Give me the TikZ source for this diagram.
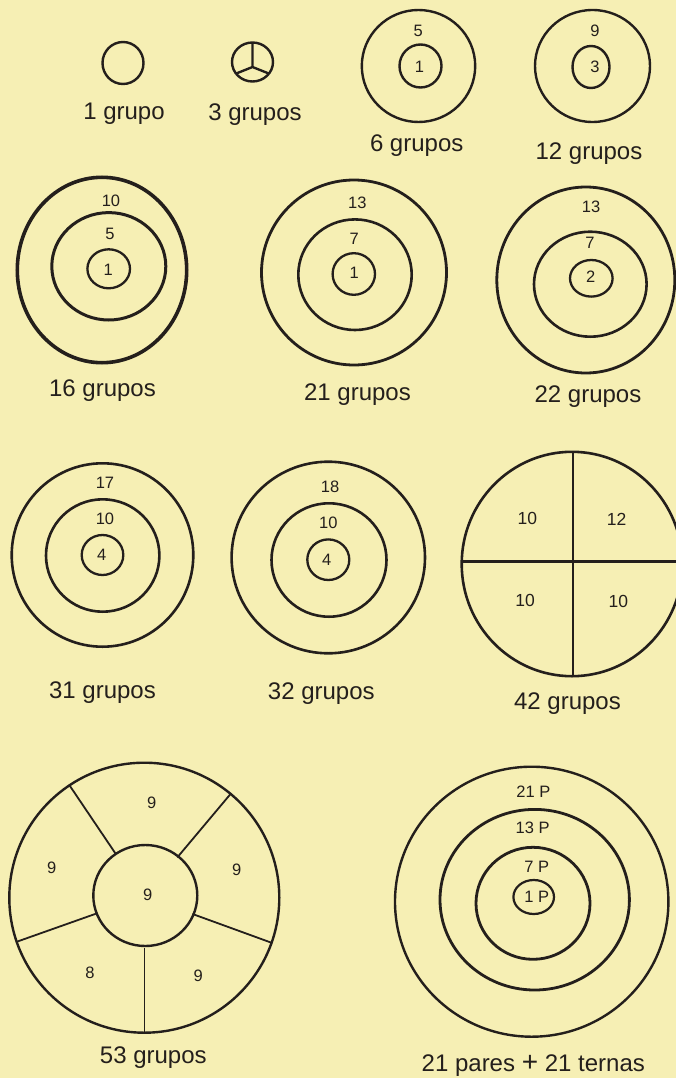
\documentclass[tikz,border=0pt]{standalone}
\usepackage{fontspec}
\setmainfont{Liberation Sans}
\usetikzlibrary{calc}
\definecolor{paper}{RGB}{246,239,180}
\definecolor{inkc}{RGB}{36,31,28}
\begin{document}
\begin{tikzpicture}[x=1pt,y=-1pt,
  ring/.style={draw=inkc, line width=#1},
  ring/.default=2.6pt,
  num/.style={font=\fontsize{16.5}{17}\selectfont, text=inkc, inner sep=0pt},
  bignum/.style={font=\fontsize{17.5}{18}\selectfont, text=inkc, inner sep=0pt},
  captxt/.style={font=\fontsize{24}{25}\selectfont, text=inkc, inner sep=0pt, anchor=base},
]
\fill[paper] (0,0) rectangle (676,1078);
\useasboundingbox (0,0) rectangle (676,1078);

% ---- 1 grupo
\draw[ring=2.4pt] (123,63) ellipse [x radius=20.5pt, y radius=21pt];
\node[captxt] (l1) at (124,119.5) {1 grupo};

% ---- 3 grupos
\coordinate (yj) at (252.5,67);
\coordinate (yt) at (252.5,42.5);
\coordinate (yl) at (236,73.6);
\coordinate (yr) at (269,73.6);
\draw[ring=2.4pt] (252.5,62) ellipse [x radius=20.5pt, y radius=19.5pt];
\draw[ring=2.4pt] (yt) -- (yj) (yl) -- (yj) -- (yr);
\node[captxt] (l3) at (255,121) {3 grupos};

% ---- 6 grupos
\draw[ring=2.4pt] (418.5,66) ellipse [x radius=56.7pt, y radius=56pt];
\draw[ring=2.4pt] (420.5,66) ellipse [x radius=21pt, y radius=21.5pt];
\node[num] (n6a) at (418.3,30.7) {5};
\node[num] (n6b) at (419.5,66.7) {1};
\node[captxt] (l6) at (416.7,152) {6 grupos};

% ---- 12 grupos
\draw[ring=2.4pt] (592.5,66) ellipse [x radius=57.5pt, y radius=56pt];
\draw[ring=2.4pt] (591,67) ellipse [x radius=18.5pt, y radius=21pt];
\node[num] (n12a) at (595,30.7) {9};
\node[num] (n12b) at (595,67.3) {3};
\node[captxt] (l12) at (589,159.5) {12 grupos};

% ---- 16 grupos
\draw[ring=3.6pt] (102,270) ellipse [x radius=84.7pt, y radius=92.7pt];
\draw[ring=3pt] (108.8,266.3) ellipse [x radius=57pt, y radius=53.7pt];
\draw[ring=2.3pt] (108.7,268.8) ellipse [x radius=21.3pt, y radius=19.5pt];
\node[num] (n16a) at (111,200.7) {10};
\node[num] (n16b) at (110,234) {5};
\node[num] (n16c) at (108.3,270) {1};
\node[captxt] (l16) at (102.5,396.5) {16 grupos};

% ---- 21 grupos
\draw[ring=2.8pt] (354,272.5) ellipse [x radius=92.5pt, y radius=92.5pt];
\draw[ring=2.6pt] (355,274.7) ellipse [x radius=56.7pt, y radius=55.3pt];
\draw[ring=2.3pt] (353.8,274) ellipse [x radius=21.2pt, y radius=20.8pt];
\node[num] (n21a) at (357.3,203.3) {13};
\node[num] (n21b) at (354.3,239.3) {7};
\node[num] (n21c) at (354.3,273.3) {1};
\node[captxt] (l21) at (357.5,400) {21 grupos};

% ---- 22 grupos
\draw[ring=2.8pt] (585.8,280) ellipse [x radius=89pt, y radius=93pt];
\draw[ring=2.6pt] (590.3,284.2) ellipse [x radius=56.3pt, y radius=52.5pt];
\draw[ring=2.3pt] (591.3,278.3) ellipse [x radius=21.3pt, y radius=18.3pt];
\node[num] (n22a) at (591,207.3) {13};
\node[num] (n22b) at (590,242.7) {7};
\node[num] (n22c) at (590.7,276.7) {2};
\node[captxt] (l22) at (588,402) {22 grupos};

% ---- 31 grupos
\draw[ring=2.6pt] (102.5,555) ellipse [x radius=90.8pt, y radius=91.7pt];
\draw[ring=2.6pt] (102.7,555.5) ellipse [x radius=56.7pt, y radius=56.2pt];
\draw[ring=2.3pt] (102.5,555) ellipse [x radius=20.8pt, y radius=20pt];
\node[num] (n31a) at (105,483.3) {17};
\node[num] (n31b) at (105,519.3) {10};
\node[num] (n31c) at (101.7,555) {4};
\node[captxt] (l31) at (102.5,698.5) {31 grupos};

% ---- 32 grupos
\draw[ring=2.6pt] (328.3,557.5) ellipse [x radius=96.7pt, y radius=95.8pt];
\draw[ring=2.6pt] (329,560) ellipse [x radius=57.5pt, y radius=56.7pt];
\draw[ring=2.3pt] (328.3,559.7) ellipse [x radius=21pt, y radius=20.3pt];
\node[num] (n32a) at (330,486.7) {18};
\node[num] (n32b) at (328.3,523.3) {10};
\node[num] (n32c) at (326.7,560) {4};
\node[captxt] (l32) at (321.3,699.5) {32 grupos};

% ---- 42 grupos
\draw[ring=2.6pt] (572,564) ellipse [x radius=110.3pt, y radius=112.2pt];
\coordinate (hL) at (461.7,561.7);
\coordinate (hR) at (680,561.7);
\coordinate (vT) at (573.3,451.7);
\coordinate (vB) at (573.3,676);
\draw[ring=3.2pt] (hL) -- (hR);
\draw[ring=2.2pt] (vT) -- (vB);
\node[bignum] (n42a) at (527.3,518.3) {10};
\node[bignum] (n42b) at (616.7,519.3) {12};
\node[bignum] (n42c) at (525,600) {10};
\node[bignum] (n42d) at (618.3,601) {10};
\node[captxt] (l42) at (567.5,709.5) {42 grupos};

% ---- 53 grupos
\coordinate (c53) at (144.5,896.5);
\draw[ring=2.4pt] (144.3,897.7) ellipse [x radius=135pt, y radius=135pt];
\draw[ring=2.4pt] (145.3,895.5) ellipse [x radius=52pt, y radius=50.5pt];
\foreach \a in {90,20,-50,-124,160.5}
  \draw[ring=1.8pt] ($(c53)+(\a:51)$) -- ($(c53)+(\a:135)$);
\node[num] (n53a) at (151.7,802.7) {9};
\node[num] (n53b) at (51.7,868.3) {9};
\node[num] (n53c) at (236.7,870) {9};
\node[num] (n53d) at (147.7,895) {9};
\node[num] (n53e) at (90,973.3) {8};
\node[num] (n53f) at (198.3,976) {9};
\node[captxt] (l53) at (153.3,1063.5) {53 grupos};

% ---- 21 pares + 21 ternas
\draw[ring=2.4pt] (531.7,901.7) ellipse [x radius=136.7pt, y radius=135pt];
\draw[ring=2.8pt] (534.7,899.7) ellipse [x radius=94.7pt, y radius=90.3pt];
\draw[ring=2.8pt] (533,903.3) ellipse [x radius=57pt, y radius=56pt];
\draw[ring=2.2pt] (533.7,897) ellipse [x radius=20.3pt, y radius=17pt];
\node[num] (p21) at (533.3,791.7) {21 P};
\node[num] (p13) at (532.7,828.3) {13 P};
\node[num] (p7) at (536.7,866.7) {7 P};
\node[num] (p1) at (536.7,896.7) {1 P};
\node[captxt] (lp) at (533.3,1071.5) {21 pares {\fontsize{28}{28}\selectfont +} 21 ternas};
\end{tikzpicture}
\end{document}
